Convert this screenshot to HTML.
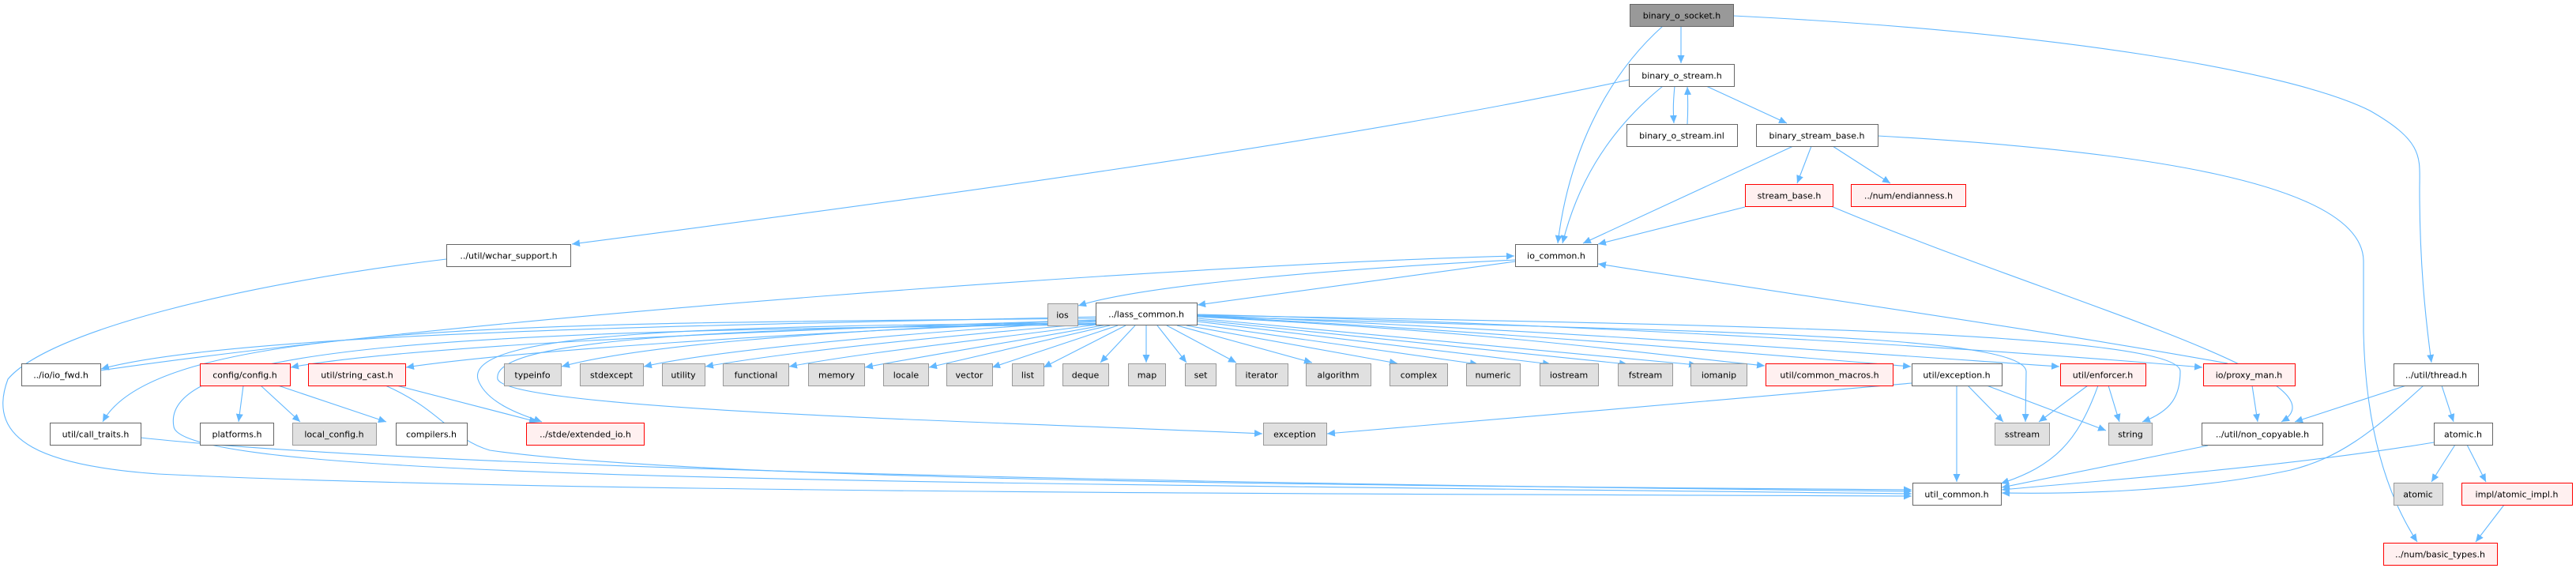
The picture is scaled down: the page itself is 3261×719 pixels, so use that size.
<!DOCTYPE html>
<html><head><meta charset="utf-8"><style>
html,body{margin:0;padding:0;background:#fff;}
svg{display:block;}
text{font-family:"DejaVu Sans","Liberation Sans",sans-serif;font-size:11px;fill:#000;text-anchor:middle;}
.e{fill:none;stroke:#63b8ff;stroke-width:1.1;marker-end:url(#a);}
.n rect{fill:#fff;stroke:#666;stroke-width:1;}
.g rect{fill:#e0e0e0;stroke:#999;stroke-width:1;}
.r rect{fill:#fff0f0;stroke:#ff0000;stroke-width:1;}
.root rect{fill:#999;stroke:#666;stroke-width:1;}
</style></head><body>
<svg width="3261" height="719" viewBox="0 0 3261 719" xmlns="http://www.w3.org/2000/svg">
<defs><marker id="a" markerUnits="userSpaceOnUse" markerWidth="11" markerHeight="9" refX="10" refY="4.5" orient="auto"><path d="M0,0 L10,4.5 L0,9 z" fill="#63b8ff"/></marker></defs>

<!-- edges -->
<path class="e" d="M2128,33 L2128,80"/>
<path class="e" d="M2105,33 C2030,100 1985,200 1972,308"/>
<path class="e" d="M2194,20 C2600,40 2900,90 3000,140 C3070,180 3063,200 3063,240 C3063,330 3070,400 3078,459"/>
<path class="e" d="M2062,101 C1700,180 1100,260 724,309"/>
<path class="e" d="M2105,109 C2030,170 1995,240 1978,308"/>
<path class="e" d="M2120,109 C2118,130 2118,140 2119,156"/>
<path class="e" d="M2136,157 C2137,140 2137,130 2136,110"/>
<path class="e" d="M2160,109 L2262,156"/>
<path class="e" d="M2270,185 L2004,308"/>
<path class="e" d="M2293,185 L2275,232"/>
<path class="e" d="M2320,185 L2393,232"/>
<path class="e" d="M2377,172 C2700,190 2990,230 2992,330 L2992,420 C2995,560 3030,640 3060,686"/>
<path class="e" d="M2209,262 L2023,309"/>
<path class="e" d="M2318,261 C2600,380 2980,480 2888,534"/>
<path class="e" d="M1918,329 C1700,340 1450,360 1365,387"/>
<path class="e" d="M1918,331 L1516,386"/>
<path class="e" d="M127,469 C600,400 1500,335 1917,324"/>
<path class="e" d="M2820,460 C2600,420 2250,370 2023,334"/>
<path class="e" d="M565,328 C300,360 60,420 10,480 C-20,560 60,590 200,600 C700,625 1800,625 2420,628"/>

<!-- lass_common fan -->
<path class="e" d="M1388,401 C900,412 300,420 128,467"/>
<path class="e" d="M1388,403 C700,410 200,405 130,534"/>
<path class="e" d="M1388,405 C900,420 500,440 368,465"/>
<path class="e" d="M1388,407 C1000,420 650,445 514,465"/>
<path class="e" d="M1388,409 C900,412 590,420 605,480 C615,510 660,525 686,534"/>
<path class="e" d="M1388,411 C600,418 200,435 220,540 C230,610 1200,610 2420,625"/>
<path class="e" d="M1388,410 C900,415 620,430 630,480 C645,520 1300,535 1598,549"/>
<path class="e" d="M1388,405 C1000,420 800,440 711,464"/>
<path class="e" d="M1388,406 C1100,425 900,445 815,464"/>
<path class="e" d="M1390,409 C1200,425 1000,445 893,464"/>
<path class="e" d="M1395,410 C1250,430 1100,445 999,464"/>
<path class="e" d="M1400,411 C1300,430 1200,445 1095,465"/>
<path class="e" d="M1405,412 L1176,465"/>
<path class="e" d="M1415,412 L1256,465"/>
<path class="e" d="M1425,412 L1321,465"/>
<path class="e" d="M1437,412 L1393,459"/>
<path class="e" d="M1451,412 L1451,459"/>
<path class="e" d="M1465,412 L1502,459"/>
<path class="e" d="M1477,412 L1565,459"/>
<path class="e" d="M1490,412 L1661,459"/>
<path class="e" d="M1502,412 L1769,460"/>
<path class="e" d="M1512,410 L1871,461"/>
<path class="e" d="M1516,407 L1963,461"/>
<path class="e" d="M1516,405 L2060,461"/>
<path class="e" d="M1516,403 L2148,462"/>
<path class="e" d="M1516,401 C1900,420 2100,450 2234,463"/>
<path class="e" d="M1516,400 C1900,420 2250,450 2419,464"/>
<path class="e" d="M1516,399 C2000,420 2400,450 2607,464"/>
<path class="e" d="M1516,398 C2000,410 2500,440 2788,465"/>
<path class="e" d="M1516,400 C2100,420 2560,420 2565,470 L2564,534"/>
<path class="e" d="M1516,399 C2150,410 2760,420 2760,470 C2760,500 2750,520 2712,534"/>

<!-- lower edges -->
<path class="e" d="M178,554 C600,600 1800,615 2420,622"/>
<path class="e" d="M308,488 L302,534"/>
<path class="e" d="M330,488 L380,534"/>
<path class="e" d="M352,488 L489,534"/>
<path class="e" d="M488,488 C560,520 570,555 620,570 C900,610 1800,615 2420,620"/>
<path class="e" d="M502,488 L680,534"/>
<path class="e" d="M2420,485 C2200,505 1900,530 1680,549"/>
<path class="e" d="M2477,488 L2477,610"/>
<path class="e" d="M2491,488 L2536,534"/>
<path class="e" d="M2515,488 L2666,545"/>
<path class="e" d="M2643,488 L2581,534"/>
<path class="e" d="M2669,488 L2683,534"/>
<path class="e" d="M2656,488 C2630,560 2600,590 2533,612"/>
<path class="e" d="M2851,488 L2858,534"/>
<path class="e" d="M3046,488 L2905,534"/>
<path class="e" d="M3068,488 C3000,550 2960,580 2900,595 C2760,625 2600,625 2534,624"/>
<path class="e" d="M3091,488 L3106,534"/>
<path class="e" d="M2795,564 L2534,617"/>
<path class="e" d="M3081,560 C2900,590 2700,605 2534,620"/>
<path class="e" d="M3108,563 L3078,610"/>
<path class="e" d="M3123,563 L3147,610"/>
<path class="e" d="M3170,639 L3134,686"/>

<!-- nodes -->
<g class="root"><rect x="2063.5" y="5.5" width="131" height="28"/><text x="2129" y="23.5">binary_o_socket.h</text></g>
<g class="n"><rect x="2062.5" y="81.5" width="133" height="28"/><text x="2129" y="99.5">binary_o_stream.h</text></g>
<g class="n"><rect x="2059.5" y="157.5" width="140" height="28"/><text x="2129" y="175.5">binary_o_stream.inl</text></g>
<g class="n"><rect x="2223.5" y="157.5" width="154" height="28"/><text x="2300" y="175.5">binary_stream_base.h</text></g>
<g class="r"><rect x="2209.5" y="233.5" width="111" height="28"/><text x="2265" y="251.5">stream_base.h</text></g>
<g class="r"><rect x="2343.5" y="233.5" width="145" height="28"/><text x="2416" y="251.5">../num/endianness.h</text></g>
<g class="n"><rect x="565.5" y="309.5" width="157" height="28"/><text x="644" y="327.5">../util/wchar_support.h</text></g>
<g class="n"><rect x="1918.5" y="309.5" width="104" height="28"/><text x="1970" y="327.5">io_common.h</text></g>
<g class="g"><rect x="1326.5" y="384.5" width="38" height="28"/><text x="1345" y="402.5">ios</text></g>
<g class="n"><rect x="1387.5" y="383.5" width="128" height="28"/><text x="1451" y="401.5">../lass_common.h</text></g>

<g class="n"><rect x="27.5" y="460.5" width="100" height="28"/><text x="77" y="478.5">../io/io_fwd.h</text></g>
<g class="r"><rect x="253.5" y="460.5" width="114" height="28"/><text x="310" y="478.5">config/config.h</text></g>
<g class="r"><rect x="390.5" y="460.5" width="123" height="28"/><text x="452" y="478.5">util/string_cast.h</text></g>
<g class="g"><rect x="638.5" y="460.5" width="72" height="28"/><text x="674" y="478.5">typeinfo</text></g>
<g class="g"><rect x="734.5" y="460.5" width="80" height="28"/><text x="774" y="478.5">stdexcept</text></g>
<g class="g"><rect x="838.5" y="460.5" width="54" height="28"/><text x="865" y="478.5">utility</text></g>
<g class="g"><rect x="915.5" y="460.5" width="83" height="28"/><text x="957" y="478.5">functional</text></g>
<g class="g"><rect x="1023.5" y="460.5" width="71" height="28"/><text x="1059" y="478.5">memory</text></g>
<g class="g"><rect x="1118.5" y="460.5" width="57" height="28"/><text x="1147" y="478.5">locale</text></g>
<g class="g"><rect x="1198.5" y="460.5" width="58" height="28"/><text x="1227" y="478.5">vector</text></g>
<g class="g"><rect x="1281.5" y="460.5" width="40" height="28"/><text x="1301" y="478.5">list</text></g>
<g class="g"><rect x="1345.5" y="460.5" width="58" height="28"/><text x="1374" y="478.5">deque</text></g>
<g class="g"><rect x="1428.5" y="460.5" width="47" height="28"/><text x="1452" y="478.5">map</text></g>
<g class="g"><rect x="1500.5" y="460.5" width="39" height="28"/><text x="1520" y="478.5">set</text></g>
<g class="g"><rect x="1564.5" y="460.5" width="66" height="28"/><text x="1597" y="478.5">iterator</text></g>
<g class="g"><rect x="1653.5" y="460.5" width="82" height="28"/><text x="1694" y="478.5">algorithm</text></g>
<g class="g"><rect x="1759.5" y="460.5" width="73" height="28"/><text x="1796" y="478.5">complex</text></g>
<g class="g"><rect x="1856.5" y="460.5" width="68" height="28"/><text x="1890" y="478.5">numeric</text></g>
<g class="g"><rect x="1949.5" y="460.5" width="74" height="28"/><text x="1986" y="478.5">iostream</text></g>
<g class="g"><rect x="2048.5" y="460.5" width="69" height="28"/><text x="2083" y="478.5">fstream</text></g>
<g class="g"><rect x="2140.5" y="460.5" width="71" height="28"/><text x="2176" y="478.5">iomanip</text></g>
<g class="r"><rect x="2235.5" y="460.5" width="161" height="28"/><text x="2316" y="478.5">util/common_macros.h</text></g>
<g class="n"><rect x="2420.5" y="460.5" width="114" height="28"/><text x="2477" y="478.5">util/exception.h</text></g>
<g class="r"><rect x="2608.5" y="460.5" width="108" height="28"/><text x="2662" y="478.5">util/enforcer.h</text></g>
<g class="r"><rect x="2789.5" y="460.5" width="116" height="28"/><text x="2847" y="478.5">io/proxy_man.h</text></g>
<g class="n"><rect x="3030.5" y="460.5" width="107" height="28"/><text x="3084" y="478.5">../util/thread.h</text></g>

<g class="n"><rect x="63.5" y="535.5" width="115" height="28"/><text x="121" y="553.5">util/call_traits.h</text></g>
<g class="n"><rect x="253.5" y="535.5" width="93" height="28"/><text x="300" y="553.5">platforms.h</text></g>
<g class="g"><rect x="370.5" y="535.5" width="106" height="28"/><text x="423" y="553.5">local_config.h</text></g>
<g class="n"><rect x="501.5" y="535.5" width="90" height="28"/><text x="546" y="553.5">compilers.h</text></g>
<g class="r"><rect x="666.5" y="535.5" width="149" height="28"/><text x="741" y="553.5">../stde/extended_io.h</text></g>
<g class="g"><rect x="1599.5" y="535.5" width="80" height="28"/><text x="1639" y="553.5">exception</text></g>
<g class="g"><rect x="2525.5" y="535.5" width="69" height="28"/><text x="2560" y="553.5">sstream</text></g>
<g class="g"><rect x="2669.5" y="535.5" width="55" height="28"/><text x="2697" y="553.5">string</text></g>
<g class="n"><rect x="2787.5" y="535.5" width="153" height="28"/><text x="2864" y="553.5">../util/non_copyable.h</text></g>
<g class="n"><rect x="3081.5" y="535.5" width="74" height="28"/><text x="3118" y="553.5">atomic.h</text></g>

<g class="n"><rect x="2421.5" y="611.5" width="112" height="28"/><text x="2477" y="629.5">util_common.h</text></g>
<g class="g"><rect x="3030.5" y="611.5" width="62" height="28"/><text x="3061" y="629.5">atomic</text></g>
<g class="r"><rect x="3116.5" y="611.5" width="140" height="28"/><text x="3186" y="629.5">impl/atomic_impl.h</text></g>
<g class="r"><rect x="3017.5" y="687.5" width="144" height="28"/><text x="3089" y="705.5">../num/basic_types.h</text></g>
</svg>
</body></html>
